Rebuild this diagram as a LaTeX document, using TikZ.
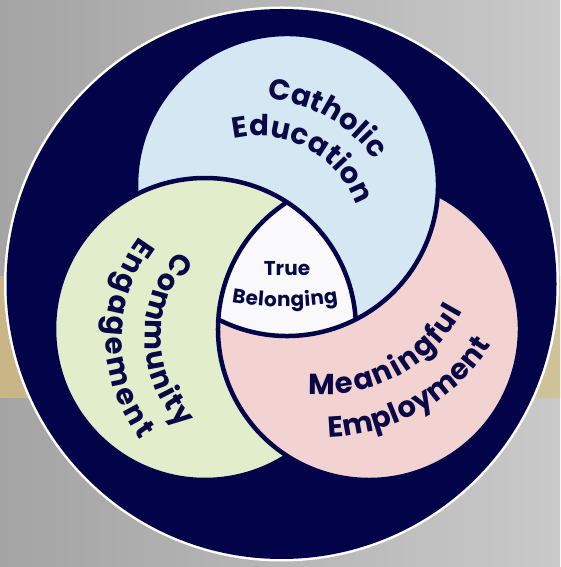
\documentclass[tikz,border=0pt]{standalone}
\usepackage{fontspec}
\setmainfont{Poppins}
\usetikzlibrary{decorations.text,calc}
\definecolor{navy}{RGB}{3,3,73}
\definecolor{navytxt}{RGB}{8,8,70}
\definecolor{bluec}{RGB}{214,231,244}
\definecolor{greenc}{RGB}{225,237,203}
\definecolor{pinkc}{RGB}{242,211,209}
\definecolor{centerc}{RGB}{249,249,251}
\definecolor{bgL}{RGB}{164,164,164}
\definecolor{bgR}{RGB}{201,201,201}
\definecolor{goldL}{RGB}{200,182,134}
\definecolor{goldR}{RGB}{208,194,152}
\def\vennbig{\fontsize{29}{31}\selectfont\bfseries\color{navytxt}}
\def\vennsmall{\fontsize{20}{22}\selectfont\bfseries\color{navytxt}}
\begin{document}
\begin{tikzpicture}[x=1pt,y=1pt,
  ring/.style={draw=navy,line width=4.5pt},
  curvetext/.style={decorate,decoration={text along path,text align=fit to path,text={#1}}}]
\useasboundingbox (0,0) rectangle (560,567);
% background
\fill[left color=bgL,right color=bgR] (0,0) rectangle (560,567);
\fill[left color=goldL,right color=goldR] (0,169) rectangle (560,290);
% outer disc
\coordinate (O) at (281.5,283);
\fill[white] (O) circle (277.5);
\fill[navy] (O) circle (275);
% venn centres
\coordinate (B) at (287,382);
\coordinate (G) at (205,238);
\coordinate (P) at (369,238);
% fills
\fill[pinkc] (P) circle (151);
\fill[bluec] (B) circle (151);
\fill[greenc] (G) circle (151);
\begin{scope}
  \clip (G) circle (151);
  \fill[pinkc] (P) circle (151);
\end{scope}
\begin{scope}
  \clip (B) circle (151);
  \clip (G) circle (151);
  \fill[centerc] (P) circle (151);
\end{scope}
% outlines
\draw[ring] ($(B)+(-117.1:151)$) arc[start angle=-117.1,end angle=183.6,radius=151];
\draw[ring] ($(G)+(3.6:151)$) arc[start angle=3.6,end angle=302.9,radius=151];
\draw[ring] ($(P)+(122.9:151)$) arc[start angle=122.9,end angle=422.9,radius=151];
% texts
\coordinate (Ob) at (257,325);
\path[curvetext={|\vennbig|Catholic}] ($(Ob)+(86:143)$) arc[start angle=86,end angle=35,radius=143];
\path[curvetext={|\vennbig|Education}] ($(Ob)+(103:106)$) arc[start angle=103,end angle=20,radius=106];
\coordinate (Og) at (275,229);
\path[curvetext={|\vennbig|Community}] ($(Og)+(138:130)$) arc[start angle=138,end angle=224,radius=130];
\path[curvetext={|\vennbig|Engagement}] ($(Og)+(143:169)$) arc[start angle=143,end angle=217,radius=169];
\coordinate (Op) at (323,330);
\path[curvetext={|\vennbig|Meaningful}] ($(Op)+(-95.3:158)$) arc[start angle=-95.3,end angle=-28,radius=158];
\path[curvetext={|\vennbig|Employment}] ($(Op)+(-88.5:200)$) arc[start angle=-88.5,end angle=-32.7,radius=200];
\node[font=\vennsmall,anchor=base] (tb1) at (287,291) {True};
\coordinate (Oc) at (285,580);
\path[curvetext={|\vennsmall|Belonging}] ($(Oc)+(-99.6:320)$) arc[start angle=-99.6,end angle=-80.4,radius=320];
\end{tikzpicture}
\end{document}
